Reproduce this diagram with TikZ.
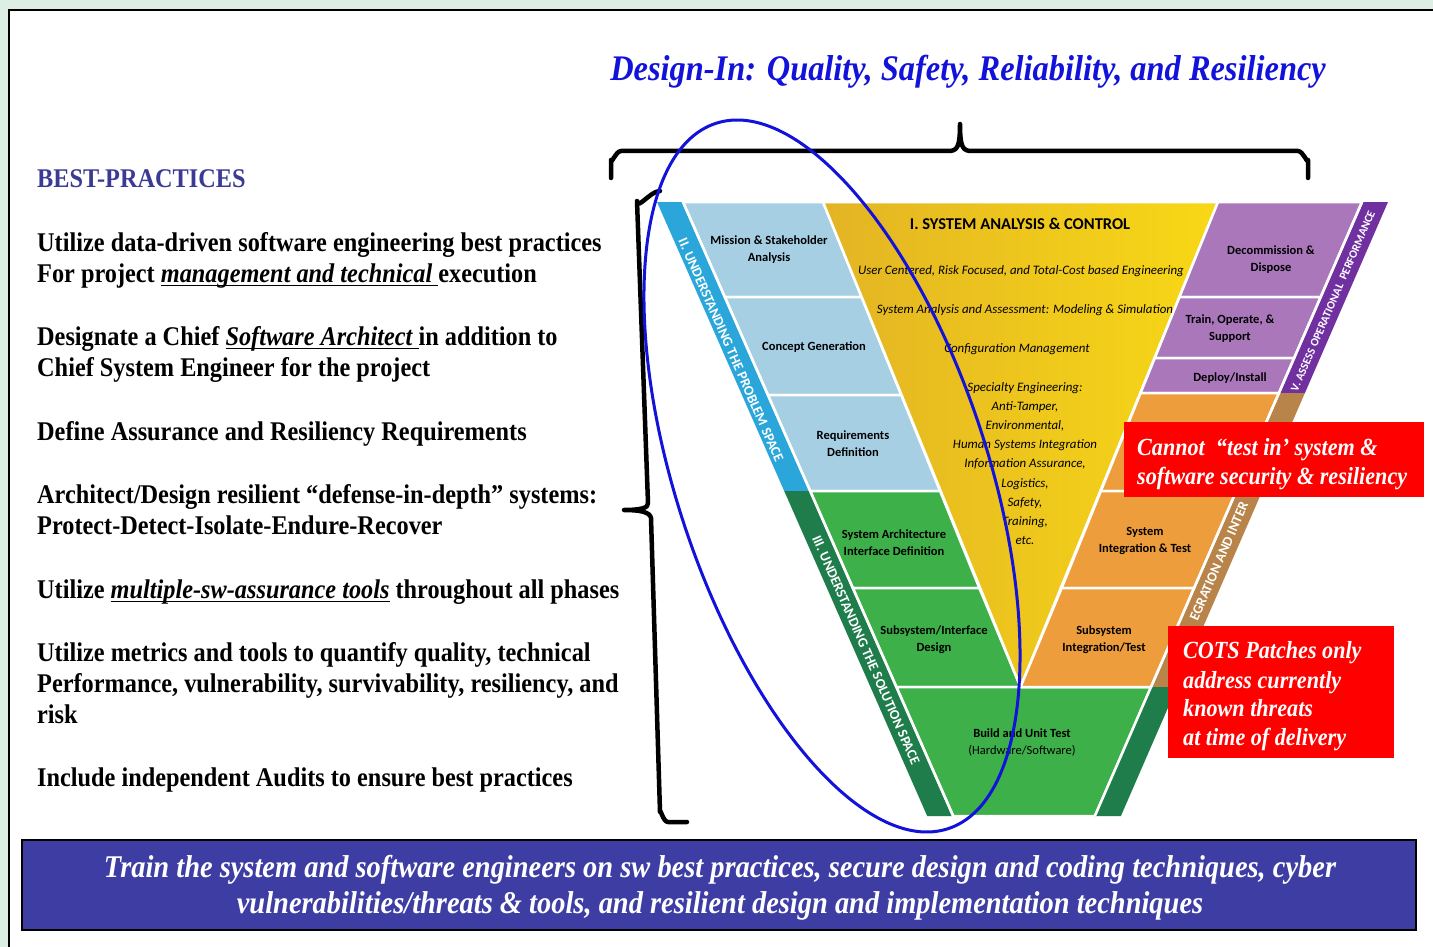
\documentclass[tikz,border=0pt]{standalone}
\usepackage{fontspec}
\setmainfont{Liberation Serif}
\newfontfamily\tnr[FakeStretch=0.9]{Liberation Serif}
\newfontfamily\calfont{Carlito}
\newcommand\ulx[1]{{\setbox0\hbox{#1}\rlap{\raisebox{-4pt}{\rule{\wd0}{1.4pt}}}\box0}}
\definecolor{bgGreen}{HTML}{DDEFE5}
\definecolor{bandBlue}{HTML}{2AA6DA}
\definecolor{lightBlue}{HTML}{A6CFE4}
\definecolor{yelA}{HTML}{E3B424}
\definecolor{yelB}{HTML}{F8D816}
\definecolor{purBox}{HTML}{AA77BB}
\definecolor{purBand}{HTML}{7030A0}
\definecolor{oraBox}{HTML}{EE9D3C}
\definecolor{brownBand}{HTML}{B8844A}
\definecolor{grnBox}{HTML}{3DB049}
\definecolor{grnBand}{HTML}{1E7D4B}
\definecolor{redBox}{HTML}{FF0000}
\definecolor{botBox}{HTML}{3D3DA3}
\definecolor{bpBlue}{HTML}{3B3B96}
\definecolor{titleBlue}{HTML}{1212DA}
\begin{document}
\begin{tikzpicture}[x=1pt,y=-1pt,
  seg/.style={draw=white,line width=2.5pt,line join=round},
  btxt/.style={anchor=base west,inner sep=0pt,font=\tnr\bfseries\fontsize{27}{31}\selectfont},
  vbox/.style={align=center,inner sep=0pt,font=\calfont\bfseries\fontsize{12.5}{17}\selectfont},
  vital/.style={align=center,inner sep=0pt,font=\calfont\itshape\fontsize{12.9}{19.2}\selectfont},
  bandtxt/.style={inner sep=0pt,text=white,font=\calfont\bfseries\fontsize{14}{16}\selectfont},
  redtxt/.style={anchor=base west,inner sep=0pt,text=white,font=\tnr\bfseries\itshape\fontsize{24.6}{28}\selectfont},
  brace/.style={line width=4.5pt,line cap=round,line join=round}]
\useasboundingbox (0,0) rectangle (1433,947);
\fill[bgGreen] (0,0) rectangle (1433,947);
\draw[fill=white,line width=1.2pt] (9,10) rectangle (1445,960);

% title
\node[anchor=base,inner sep=0pt,text=titleBlue,font=\tnr\bfseries\itshape\fontsize{36}{40}\selectfont] (title) at (968,81) {Design-In: Quality, Safety, Reliability, and Resiliency};

% top brace
\draw[brace] (611,178) -- (611,160) to[out=-90,in=180] (621,151) -- (948,151)
  .. controls (957,151) and (960,148) .. (960,124)
  .. controls (960,148) and (963,151) .. (972,151) -- (1298,151) to[out=0,in=-90] (1308,160) -- (1308,178);

% left brace
\draw[brace] (660,191) to[out=180,in=-90] (637,201) -- (648,503)
  .. controls (649,508) and (640,510) .. (624,510)
  .. controls (640,510) and (650,512) .. (651,518) -- (660,812) to[out=90,in=180] (668,822) -- (687,822);

% V diagram: left arm
\fill[bandBlue] (657,202) -- (683,202) -- (810.2,491) -- (784.2,491) -- cycle;
\fill[grnBand] (784.2,491) -- (810.2,491) -- (953.2,816) -- (927.2,816) -- cycle;
\path[seg,fill=lightBlue] (683,202) -- (823,202) -- (861.5,297) -- (724.8,297) -- cycle;
\path[seg,fill=lightBlue] (724.8,297) -- (861.5,297) -- (901.2,395) -- (767.9,395) -- cycle;
\path[seg,fill=lightBlue] (767.9,395) -- (901.2,395) -- (940,491) -- (810.2,491) -- cycle;
\path[seg,fill=grnBox] (810.2,491) -- (940,491) -- (979.3,588) -- (852.8,588) -- cycle;
\path[seg,fill=grnBox] (852.8,588) -- (979.3,588) -- (1020.5,687) -- (896.4,687) -- cycle;
\path[seg,fill=grnBox] (896.4,687) -- (1151,687) -- (1094.9,816) -- (953.2,816) -- cycle;
% center
\shade[left color=yelA,right color=yelB] (823,202) -- (1218,202) -- (1020.5,687) -- cycle;
\draw[seg] (823,202) -- (1218,202) -- (1020.5,687) -- cycle;
% right arm
\fill[purBand] (1362,202) -- (1388,202) -- (1304.9,393) -- (1278.9,393) -- cycle;
\fill[brownBand] (1278.9,393) -- (1304.9,393) -- (1177,687) -- (1151,687) -- cycle;
\fill[grnBand] (1151,687) -- (1177,687) -- (1120.9,816) -- (1094.9,816) -- cycle;
\path[seg,fill=purBox] (1218,202) -- (1362,202) -- (1320.7,297) -- (1179.5,297) -- cycle;
\path[seg,fill=purBox] (1179.5,297) -- (1320.7,297) -- (1294.1,358) -- (1154.8,358) -- cycle;
\path[seg,fill=purBox] (1154.8,358) -- (1294.1,358) -- (1278.9,393) -- (1140.6,393) -- cycle;
\path[seg,fill=oraBox] (1140.6,393) -- (1278.9,393) -- (1236.3,491) -- (1100.9,491) -- cycle;
\path[seg,fill=oraBox] (1100.9,491) -- (1236.3,491) -- (1194.1,588) -- (1061.7,588) -- cycle;
\path[seg,fill=oraBox] (1061.7,588) -- (1194.1,588) -- (1151,687) -- (1020.5,687) -- cycle;
\draw[seg] (1278.9,393) -- (1151,687);
\draw[seg] (810.2,491) -- (953.2,816);
\draw[seg] (683,202) -- (810.2,491);
\draw[seg] (1362,202) -- (1278.9,393);
\draw[seg] (1151,687) -- (1094.9,816);

% V texts
\node[vbox] (mission) at (769,250) {Mission \& Stakeholder\\Analysis};
\node[vbox] (concept) at (814,347) {Concept Generation};
\node[vbox] (reqs) at (853,444) {Requirements\\Definition};
\node[vbox] (sysarch) at (894,543) {System Architecture\\Interface Definition};
\node[vbox] (subdes) at (934,640) {Subsystem/Interface\\Design};
\node[vbox] (build) at (1022,733) {Build and Unit Test};
\node[vbox,font=\calfont\fontsize{12.5}{17}\selectfont] (hwsw) at (1022,751) {(Hardware/Software)};
\node[vbox] (decom) at (1271,260) {Decommission \&\\Dispose};
\node[vbox] (train) at (1230,329) {Train, Operate, \&\\Support};
\node[vbox] (deploy) at (1230,378) {Deploy/Install};
\node[vbox] (sysint) at (1145,541) {System\\Integration \& Test};
\node[vbox] (subint) at (1104,640) {Subsystem\\Integration/Test};
\node[vbox,font=\calfont\bfseries\fontsize{16.5}{20}\selectfont] (sac) at (1020,224) {I. SYSTEM ANALYSIS \& CONTROL};
\node[vital] (uc) at (1021,271) {User Centered, Risk Focused, and Total-Cost based Engineering};
\node[vital] (saa) at (1025,310) {System Analysis and Assessment: Modeling \& Simulation};
\node[vital] (cm) at (1017,349) {Configuration Management};
\node[vital,anchor=north] (spec) at (1025,382) {Specialty Engineering:\\Anti-Tamper,\\Environmental,\\Human Systems Integration\\Information Assurance,\\Logistics,\\Safety,\\Training,\\etc.};

% band labels
\node[bandtxt,rotate=-66.3] (b2) at (731,350) {II. UNDERSTANDING THE PROBLEM SPACE};
\node[bandtxt,rotate=-66.3] (b3) at (866,650) {III. UNDERSTANDING THE SOLUTION SPACE};
\node[bandtxt,rotate=66.5,font=\calfont\bfseries\fontsize{11.5}{13}\selectfont] (b5) at (1333,301) {V. ASSESS OPERATIONAL\ \ PERFORMANCE};
\node[bandtxt,rotate=66.5] (b4) at (1219,561) {EGRATION AND INTER};

% blue ellipse
\draw[titleBlue,line width=3pt,rotate around={18.25:(832,476)}] (832,476) ellipse (155.6 and 371.3);

% red boxes
\fill[redBox] (1124,422) rectangle (1424,497);
\node[redtxt] (cannot1) at (1137,455) {Cannot\ \ \textquotedblleft test in\textquoteright\ system \&};
\node[redtxt] (cannot2) at (1137,484) {software security \& resiliency};
\fill[redBox] (1168,626) rectangle (1394,758);
\node[redtxt] (cots1) at (1183,658) {COTS Patches only};
\node[redtxt] (cots2) at (1183,688) {address currently};
\node[redtxt] (cots3) at (1183,716) {known threats};
\node[redtxt] (cots4) at (1183,745) {at time of delivery};

% left text
\node[btxt,text=bpBlue] (bp) at (37,187) {BEST-PRACTICES};
\node[btxt] (l1) at (37,251) {Utilize data-driven software engineering best practices};
\node[btxt] (l2) at (37,282) {For project \ulx{\itshape management and technical }execution};
\node[btxt] (l3) at (37,345) {Designate a Chief \ulx{\itshape Software Architect }in addition to};
\node[btxt] (l4) at (37,376) {Chief System Engineer for the project};
\node[btxt] (l5) at (37,440) {Define Assurance and Resiliency Requirements};
\node[btxt] (l6) at (37,503) {Architect/Design resilient \textquotedblleft defense-in-depth\textquotedblright\ systems:};
\node[btxt] (l7) at (37,534) {Protect-Detect-Isolate-Endure-Recover};
\node[btxt] (l8) at (37,598) {Utilize \ulx{\itshape multiple-sw-assurance tools} throughout all phases};
\node[btxt] (l9) at (37,661) {Utilize metrics and tools to quantify quality, technical};
\node[btxt] (l10) at (37,692) {Performance, vulnerability, survivability, resiliency, and};
\node[btxt] (l11) at (37,723) {risk};
\node[btxt] (l12) at (37,786) {Include independent Audits to ensure best practices};

% bottom box
\draw[fill=botBox,line width=2pt] (22,840) rectangle (1416,930);
\node[anchor=base,inner sep=0pt,text=white,font=\tnr\bfseries\itshape\fontsize{31.6}{34}\selectfont] (bot1) at (720,877) {Train the system and software engineers on sw best practices, secure design and coding techniques, cyber};
\node[anchor=base,inner sep=0pt,text=white,font=\tnr\bfseries\itshape\fontsize{31.6}{34}\selectfont] (bot2) at (720,913) {vulnerabilities/threats \& tools, and resilient design and implementation techniques};
\end{tikzpicture}
\end{document}
